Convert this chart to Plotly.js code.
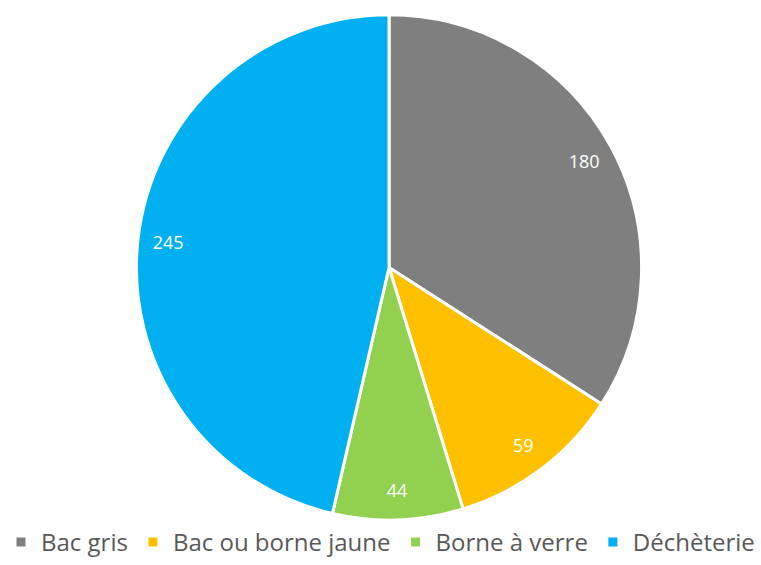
<!DOCTYPE html>
<html><head><meta charset="utf-8">
<script src="https://cdn.plot.ly/plotly-3.0.1.min.js"></script>
<style>html,body{margin:0;padding:0;background:#fff}#c{width:761px;height:565px}</style>
</head><body><div id="c"></div>
<script>
const labels = ["Bac gris", "Bac ou borne jaune", "Borne à verre", "Déchèterie"];
const values = [180, 59, 44, 245];
const colors = ["#7F7F7F", "#FFC000", "#92D050", "#00B0F0"];
const dom = {x: [0.1774, 0.845], y: [0.0, 0.9714]};

Plotly.newPlot("c", [{
  type: "pie",
  labels: labels,
  values: values,
  sort: false,
  direction: "clockwise",
  rotation: 0,
  marker: {colors: colors, line: {color: "#FFFFFF", width: 3}},
  textinfo: "none",
  hoverinfo: "label+value",
  domain: dom
}, {
  type: "pie",
  labels: labels,
  values: values,
  sort: false,
  direction: "clockwise",
  rotation: 0,
  hole: 0.76,
  showlegend: false,
  marker: {colors: ["rgba(0,0,0,0)","rgba(0,0,0,0)","rgba(0,0,0,0)","rgba(0,0,0,0)"], line: {width: 0}},
  textinfo: "value",
  textposition: "inside",
  insidetextorientation: "horizontal",
  textfont: {family: "Open Sans", size: 18, color: "#FFFFFF"},
  hoverinfo: "skip",
  domain: dom
}], {
  width: 761, height: 565,
  margin: {l: 0, r: 0, t: 0, b: 38},
  paper_bgcolor: "#FFFFFF",
  showlegend: true,
  legend: {orientation: "h", x: 0.5, xanchor: "center", xref: "container", yref: "container", y: 0, yanchor: "bottom",
    font: {family: "Open Sans", size: 24, color: "#595959"}, itemwidth: 30, tracegroupgap: 0}
}, {displayModeBar: false, staticPlot: true});
</script></body></html>
